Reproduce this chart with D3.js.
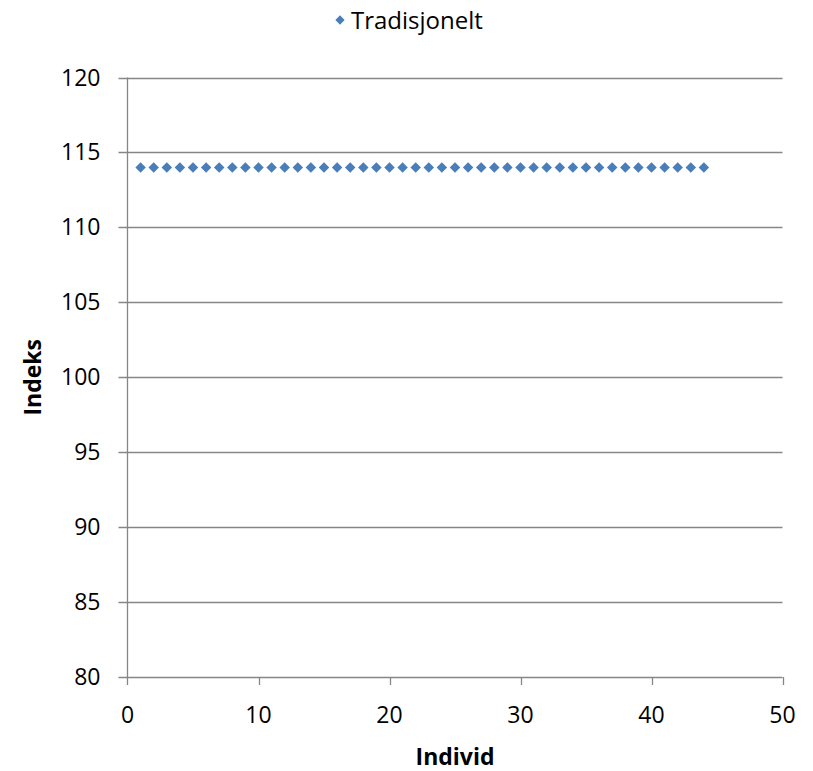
<!DOCTYPE html>
<html>
<head>
<meta charset="utf-8">
<script src="https://cdn.jsdelivr.net/npm/d3@7"></script>
<style>
  body { margin: 0; background: #fff; }
  text { font-family: "Open Sans", "Noto Sans", sans-serif; fill: #000; }
</style>
</head>
<body>
<div id="plot"></div>
<script>
// chart data
const individ = d3.range(1, 45);
const indeks = individ.map(() => 114);
const seriesName = "Tradisjonelt";
const xTicks = [0, 10, 20, 30, 40, 50];
const yTicks = [80, 85, 90, 95, 100, 105, 110, 115, 120];

const width = 813, height = 771;
const margin = {left: 127.5, right: 30, top: 77.5, bottom: 94};

const svg = d3.select("#plot").append("svg")
    .attr("width", width)
    .attr("height", height);

const x = d3.scaleLinear().domain([0, 50]).range([margin.left, 782.5]);
const y = d3.scaleLinear().domain([80, 120]).range([677, margin.top]);

const grid = "#868686";

// horizontal gridlines with outer ticks
svg.append("g")
    .selectAll("line")
    .data(yTicks)
    .enter().append("line")
    .attr("x1", x(0) - 9)
    .attr("x2", x(50))
    .attr("y1", d => Math.round(y(d)) + 0.5)
    .attr("y2", d => Math.round(y(d)) + 0.5)
    .attr("stroke", grid)
    .attr("stroke-width", 1.3);

// y axis line
svg.append("line")
    .attr("x1", x(0)).attr("x2", x(0))
    .attr("y1", y(120)).attr("y2", y(80) + 8)
    .attr("stroke", grid).attr("stroke-width", 1.3);

// x ticks
svg.append("g")
    .selectAll("line")
    .data(xTicks.slice(1))
    .enter().append("line")
    .attr("x1", d => Math.round(x(d)) + 0.5)
    .attr("x2", d => Math.round(x(d)) + 0.5)
    .attr("y1", y(80))
    .attr("y2", y(80) + 8)
    .attr("stroke", grid).attr("stroke-width", 1.3);

// y tick labels
svg.append("g")
    .selectAll("text")
    .data(yTicks)
    .enter().append("text")
    .attr("x", x(0) - 27)
    .attr("y", d => y(d) + 8)
    .attr("text-anchor", "end")
    .style("font-size", "23px")
    .text(d => d);

// x tick labels
svg.append("g")
    .selectAll("text")
    .data(xTicks)
    .enter().append("text")
    .attr("x", d => x(d))
    .attr("y", y(80) + 46)
    .attr("text-anchor", "middle")
    .style("font-size", "23px")
    .text(d => d);

// axis titles
svg.append("text")
    .attr("transform", `translate(41,${(y(80) + y(120)) / 2}) rotate(-90)`)
    .attr("text-anchor", "middle")
    .style("font-size", "23px")
    .style("font-weight", "bold")
    .text("Indeks");

svg.append("text")
    .attr("x", (x(0) + x(50)) / 2)
    .attr("y", 765)
    .attr("text-anchor", "middle")
    .style("font-size", "23px")
    .style("font-weight", "bold")
    .text("Individ");

// markers
const diamond = d3.symbol().type(d3.symbolDiamond2).size(70);
svg.append("g")
    .selectAll("path")
    .data(individ.map((d, i) => [d, indeks[i]]))
    .enter().append("path")
    .attr("d", diamond)
    .attr("transform", d => `translate(${x(d[0])},${y(d[1])})`)
    .attr("fill", "#4a7ebb");

// legend
const legend = svg.append("g").attr("transform", "translate(340,20)");
legend.append("path")
    .attr("d", d3.symbol().type(d3.symbolDiamond2).size(55))
    .attr("fill", "#4a7ebb");
legend.append("text")
    .attr("x", 11)
    .attr("y", 9)
    .style("font-size", "24px")
    .text(seriesName);
</script>
</body>
</html>
